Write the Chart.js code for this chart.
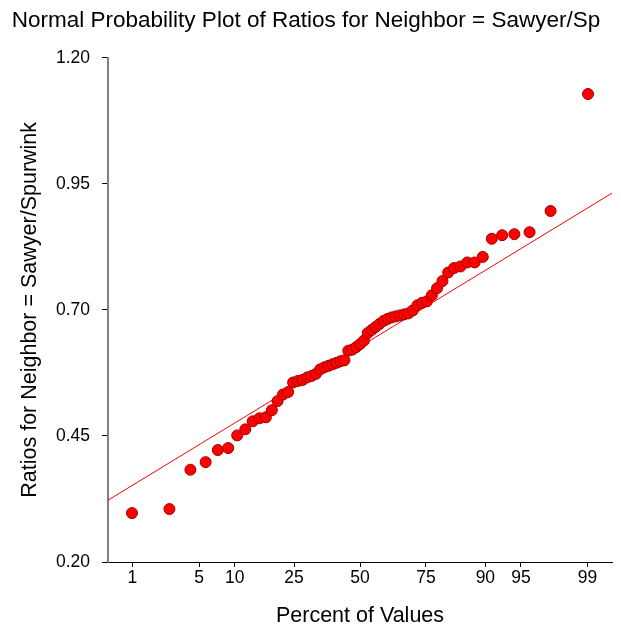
<!DOCTYPE html>
<html>
<head>
<meta charset="utf-8">
<title>Normal Probability Plot</title>
<script src="https://cdn.jsdelivr.net/npm/chart.js@4.4.0/dist/chart.umd.min.js"></script>
<style>
  html, body { margin: 0; padding: 0; background: #fff; }
  #wrap { width: 621px; height: 633px; }
</style>
</head>
<body>
<div id="wrap"><canvas id="probPlot" width="621" height="633"></canvas></div>
<script>
// Ratios for Neighbor = Sawyer/Spurwink, sorted ascending
const ratios = [
  0.297, 0.305, 0.383, 0.398, 0.422, 0.426, 0.451, 0.463, 0.479, 0.485,
  0.487, 0.501, 0.519, 0.532, 0.537, 0.556, 0.559, 0.561, 0.566, 0.569,
  0.573, 0.582, 0.586, 0.589, 0.592, 0.595, 0.598, 0.600, 0.619, 0.621,
  0.626, 0.632, 0.639, 0.654, 0.660, 0.666, 0.672, 0.678, 0.682, 0.685,
  0.687, 0.689, 0.691, 0.693, 0.699, 0.709, 0.714, 0.717, 0.729, 0.743,
  0.757, 0.774, 0.783, 0.786, 0.794, 0.794, 0.805, 0.841, 0.848, 0.850,
  0.854, 0.896, 1.128
];

// x axis labels (percent of values) and y axis labels
const percentTicks = [1, 5, 10, 25, 50, 75, 90, 95, 99];
const ratioTicks = [0.20, 0.45, 0.70, 0.95, 1.20];

// reference line: ratio = intercept + slope * z
const fitIntercept = 0.627;
const fitSlope = 0.1182;

// x axis runs from the 0.5th to the 99.5th percentile
const zLimit = 2.576;

// inverse of the standard normal CDF (Acklam's approximation)
function normInv(p) {
  const a = [-3.969683028665376e+01, 2.209460984245205e+02, -2.759285104469687e+02,
             1.383577518672690e+02, -3.066479806614716e+01, 2.506628277459239e+00];
  const b = [-5.447609879822406e+01, 1.615858368580409e+02, -1.556989798598866e+02,
             6.680131188771972e+01, -1.328068155288572e+01];
  const c = [-7.784894002430293e-03, -3.223964580411365e-01, -2.400758277161838e+00,
             -2.549732539343734e+00, 4.374664141464968e+00, 2.938163982698783e+00];
  const d = [7.784695709041462e-03, 3.224671290700398e-01, 2.445134137142996e+00,
             3.754408661907416e+00];
  const pLow = 0.02425, pHigh = 1 - pLow;
  let q, r;
  if (p < pLow) {
    q = Math.sqrt(-2 * Math.log(p));
    return (((((c[0]*q + c[1])*q + c[2])*q + c[3])*q + c[4])*q + c[5]) /
           ((((d[0]*q + d[1])*q + d[2])*q + d[3])*q + 1);
  }
  if (p <= pHigh) {
    q = p - 0.5;
    r = q * q;
    return (((((a[0]*r + a[1])*r + a[2])*r + a[3])*r + a[4])*r + a[5])*q /
           (((((b[0]*r + b[1])*r + b[2])*r + b[3])*r + b[4])*r + 1);
  }
  q = Math.sqrt(-2 * Math.log(1 - p));
  return -(((((c[0]*q + c[1])*q + c[2])*q + c[3])*q + c[4])*q + c[5]) /
          ((((d[0]*q + d[1])*q + d[2])*q + d[3])*q + 1);
}

// Blom plotting positions -> normal scores
const n = ratios.length;
const points = ratios.map((v, i) => ({ x: normInv((i + 1 - 0.375) / (n + 0.25)), y: v }));
const fitLine = [-zLimit, zLimit].map(z => ({ x: z, y: fitIntercept + fitSlope * z }));

const fontFamily = "'Liberation Sans', Arial, sans-serif";

// carry the bottom axis line out under the y tick marks
const axisCorner = {
  id: 'axisCorner',
  afterDraw(chart) {
    const { ctx, chartArea } = chart;
    ctx.save();
    ctx.strokeStyle = '#000';
    ctx.lineWidth = 1;
    ctx.beginPath();
    ctx.moveTo(chartArea.left - 6, chartArea.bottom + 0.5);
    ctx.lineTo(chartArea.left, chartArea.bottom + 0.5);
    ctx.stroke();
    ctx.restore();
  }
};

new Chart(document.getElementById('probPlot'), {
  type: 'scatter',
  data: {
    datasets: [
      {
        label: 'Ratios',
        data: points,
        pointRadius: 5.5,
        pointBorderWidth: 1,
        pointBackgroundColor: '#ff0000',
        pointBorderColor: '#a00000'
      },
      {
        type: 'line',
        label: 'Normal line',
        data: fitLine,
        borderColor: '#ff0000',
        borderWidth: 1,
        pointRadius: 0,
        fill: false
      }
    ]
  },
  plugins: [axisCorner],
  options: {
    responsive: false,
    animation: false,
    layout: { padding: { top: 0, left: 0, right: 9, bottom: 0 } },
    plugins: {
      legend: { display: false },
      tooltip: { enabled: false },
      title: {
        display: true,
        text: 'Normal Probability Plot of Ratios for Neighbor = Sawyer/Sp',
        color: '#000',
        font: { family: fontFamily, size: 22.5, weight: 'normal' },
        padding: { top: 7, bottom: 23.7 }
      }
    },
    scales: {
      x: {
        type: 'linear',
        min: -zLimit,
        max: zLimit,
        afterBuildTicks: (scale) => {
          scale.ticks = percentTicks.map(p => ({ value: normInv(p / 100) }));
        },
        afterFit: (scale) => { scale.height = 71; },
        grid: { drawOnChartArea: false, drawTicks: true, tickLength: 5, color: '#000' },
        border: { color: '#000', width: 1 },
        ticks: {
          autoSkip: false,
          maxRotation: 0,
          padding: 1,
          color: '#000',
          font: { family: fontFamily, size: 17.5 },
          callback: (value, index) => percentTicks[index]
        },
        title: {
          display: true,
          text: 'Percent of Values',
          color: '#000',
          font: { family: fontFamily, size: 21.5 },
          padding: { top: 0, bottom: 4 }
        }
      },
      y: {
        min: 0.20,
        max: 1.20,
        afterBuildTicks: (scale) => {
          scale.ticks = ratioTicks.map(v => ({ value: v }));
        },
        afterFit: (scale) => { scale.width = 108; },
        grid: { drawOnChartArea: false, drawTicks: true, tickLength: 6, color: '#000' },
        border: { color: '#808080', width: 2 },
        ticks: {
          padding: 12,
          color: '#000',
          font: { family: fontFamily, size: 17.5 },
          callback: (value) => value.toFixed(2)
        },
        title: {
          display: true,
          text: 'Ratios for Neighbor = Sawyer/Spurwink',
          color: '#000',
          font: { family: fontFamily, size: 21.5 },
          padding: { top: 17, bottom: 0 }
        }
      }
    }
  }
});
</script>
</body>
</html>
